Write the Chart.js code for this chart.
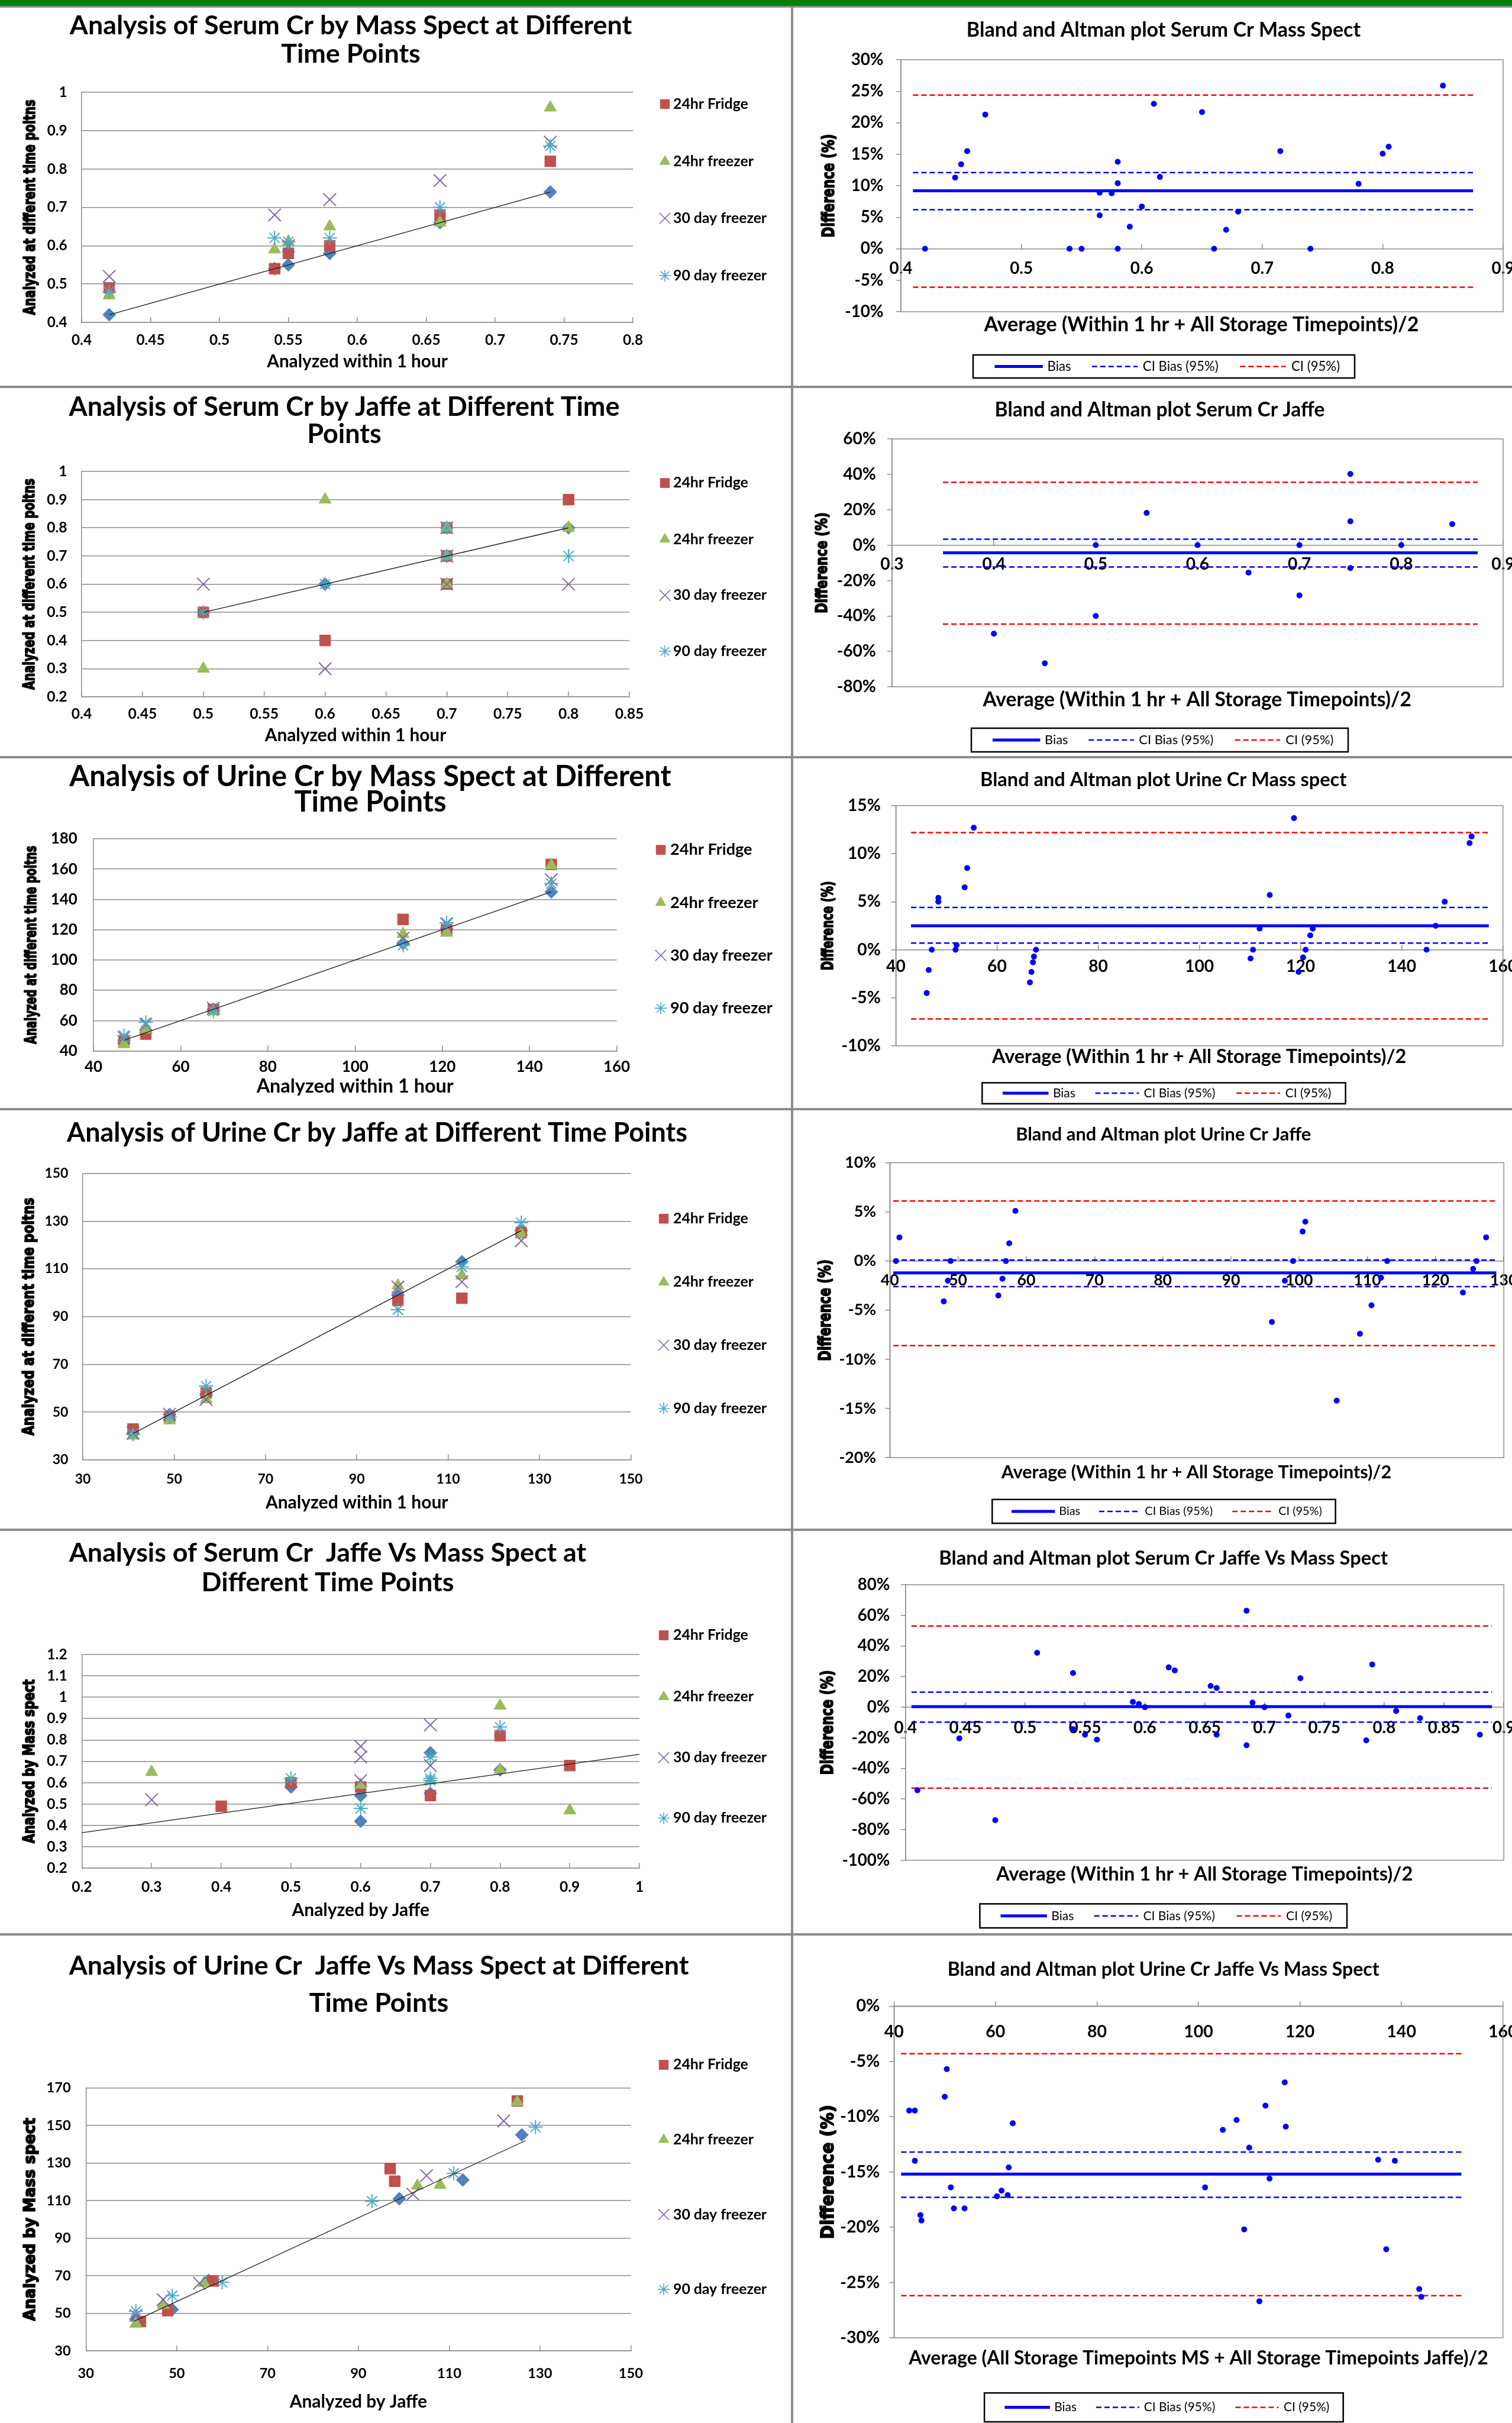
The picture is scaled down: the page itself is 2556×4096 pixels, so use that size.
<!DOCTYPE html>
<html>
<head>
<meta charset="utf-8">
<title>Creatinine stability: scatter and Bland-Altman plots</title>
<script src="https://cdn.jsdelivr.net/npm/chart.js@4.4.1/dist/chart.umd.min.js"></script>
<style>
  html, body { margin: 0; padding: 0; background: #fff; }
  #page { position: relative; width: 2556px; height: 4096px; overflow: hidden; background: #fff; }
  #page canvas { position: absolute; }
  .rule { position: absolute; }
</style>
</head>
<body>
<div id="page"></div>
<script>
// ---------- Serum Cr by Mass Spect ----------
const smX = [0.42, 0.54, 0.55, 0.58, 0.66, 0.74];
const smHour = [0.42, 0.54, 0.55, 0.58, 0.66, 0.74];
const smFridge = [0.49, 0.54, 0.58, 0.60, 0.68, 0.82];
const smFreezer24 = [0.47, 0.59, 0.61, 0.65, 0.66, 0.96];
const smFreezer30 = [0.52, 0.68, 0.60, 0.72, 0.77, 0.87];
const smFreezer90 = [0.48, 0.62, 0.61, 0.62, 0.70, 0.86];
const smTrend = [[0.42, 0.42], [0.74, 0.74]];
const smXTicks = [0.4, 0.45, 0.5, 0.55, 0.6, 0.65, 0.7, 0.75, 0.8];
const smYTicks = [0.4, 0.5, 0.6, 0.7, 0.8, 0.9, 1];

// ---------- Serum Cr by Jaffe ----------
const sjHour = [[0.5, 0.5], [0.6, 0.6], [0.7, 0.7], [0.8, 0.8]];
const sjFridge = [[0.5, 0.5], [0.6, 0.4], [0.7, 0.8], [0.7, 0.7], [0.7, 0.6], [0.8, 0.9]];
const sjFreezer24 = [[0.5, 0.3], [0.6, 0.9], [0.7, 0.8], [0.7, 0.7], [0.7, 0.6], [0.8, 0.8]];
const sjFreezer30 = [[0.5, 0.6], [0.6, 0.3], [0.7, 0.8], [0.7, 0.7], [0.7, 0.6], [0.8, 0.6]];
const sjFreezer90 = [[0.5, 0.5], [0.6, 0.6], [0.7, 0.8], [0.7, 0.7], [0.8, 0.7]];
const sjTrend = [[0.5, 0.5], [0.8, 0.8]];
const sjXTicks = [0.4, 0.45, 0.5, 0.55, 0.6, 0.65, 0.7, 0.75, 0.8, 0.85];
const sjYTicks = [0.2, 0.3, 0.4, 0.5, 0.6, 0.7, 0.8, 0.9, 1];

// ---------- Urine Cr by Mass Spect ----------
const umX = [47, 52, 67.5, 111, 121, 145];
const umHour = [47, 52, 67.5, 111, 121, 145];
const umFridge = [46.7, 51.1, 67.4, 126.8, 120.1, 163.1];
const umFreezer24 = [44.4, 54.1, 66.0, 117.1, 117.9, 162.4];
const umFreezer30 = [48.9, 57.5, 68.2, 114.4, 123.8, 153.0];
const umFreezer90 = [50.1, 58.8, 66.2, 109.7, 124.5, 150.5];
const umTrend = [[47, 47], [145, 145]];
const umXTicks = [40, 60, 80, 100, 120, 140, 160];
const umYTicks = [40, 60, 80, 100, 120, 140, 160, 180];

// ---------- Urine Cr by Jaffe ----------
const ujX = [41, 49, 57, 99, 113, 126];
const ujHour = [41, 49, 57, 99, 113, 126];
const ujFridge = [42.9, 48.0, 58.1, 96.8, 97.7, 125.2];
const ujFreezer24 = [40.1, 46.5, 55.3, 103.0, 107.2, 124.6];
const ujFreezer30 = [41.2, 49.1, 55.3, 102.4, 104.6, 121.8];
const ujFreezer90 = [40.7, 48.0, 60.9, 92.9, 110.8, 129.3];
const ujTrend = [[41, 41], [126, 126]];
const ujXTicks = [30, 50, 70, 90, 110, 130, 150];
const ujYTicks = [30, 50, 70, 90, 110, 130, 150];

// ---------- Serum Cr Jaffe vs Mass Spect ----------
const sjmHour = [[0.6, 0.42], [0.6, 0.54], [0.7, 0.55], [0.5, 0.58], [0.8, 0.66], [0.7, 0.74]];
const sjmFridge = [[0.4, 0.49], [0.5, 0.60], [0.6, 0.58], [0.7, 0.54], [0.8, 0.82], [0.9, 0.68]];
const sjmFreezer24 = [[0.3, 0.65], [0.6, 0.59], [0.7, 0.61], [0.8, 0.96], [0.8, 0.66], [0.9, 0.47]];
const sjmFreezer30 = [[0.3, 0.52], [0.6, 0.77], [0.6, 0.72], [0.6, 0.61], [0.7, 0.87], [0.7, 0.68]];
const sjmFreezer90 = [[0.5, 0.62], [0.6, 0.48], [0.7, 0.72], [0.7, 0.62], [0.7, 0.61], [0.8, 0.86]];
const sjmTrend = [[0.2, 0.366], [1.0, 0.733]];
const sjmXTicks = [0.2, 0.3, 0.4, 0.5, 0.6, 0.7, 0.8, 0.9, 1];
const sjmYTicks = [0.2, 0.3, 0.4, 0.5, 0.6, 0.7, 0.8, 0.9, 1, 1.1, 1.2];

// ---------- Urine Cr Jaffe vs Mass Spect ----------
const ujmHour = [[41, 47], [49, 52], [57, 67.5], [99, 111], [113, 121], [126, 145]];
const ujmFridge = [[42, 45.6], [48, 51.4], [58, 67.2], [97, 127], [98, 120.3], [125, 163]];
const ujmFreezer24 = [[41, 44.4], [47, 54.4], [56, 66], [103, 117.9], [108, 118.3], [125, 162.4]];
const ujmFreezer30 = [[41, 48.9], [47, 57.2], [55, 66], [102, 113.4], [105, 123.3], [122, 152.4]];
const ujmFreezer90 = [[41, 51.1], [49, 59.4], [60, 66.5], [93, 109.7], [111, 124.5], [129, 149.1]];
const ujmTrend = [[40.6, 45.8], [126.8, 141.9]];
const ujmXTicks = [30, 50, 70, 90, 110, 130, 150];
const ujmYTicks = [30, 50, 70, 90, 110, 130, 150, 170];

// ---------- Bland-Altman: Serum Cr Mass Spect ----------
const baSmAvg = [0.42, 0.445, 0.45, 0.455, 0.47, 0.54, 0.55, 0.565, 0.565, 0.575, 0.58, 0.58, 0.58, 0.59,
  0.60, 0.61, 0.615, 0.65, 0.66, 0.67, 0.68, 0.715, 0.74, 0.78, 0.80, 0.805, 0.85];
const baSmDiff = [0, 11.3, 13.4, 15.5, 21.3, 0, 0, 8.9, 5.3, 8.8, 13.8, 10.4, 0, 3.5,
  6.7, 23.0, 11.4, 21.7, 0, 3.0, 5.9, 15.5, 0, 10.3, 15.1, 16.2, 25.9];
const baSmLimits = [9.2, 12.1, 6.2, 24.4, -6.1];   // bias, CI bias hi/lo, CI hi/lo
const baSmSpan = [0.41, 0.875];
const baSmXTicks = [0.4, 0.5, 0.6, 0.7, 0.8, 0.9];
const baSmYTicks = [-10, -5, 0, 5, 10, 15, 20, 25, 30];

// ---------- Bland-Altman: Serum Cr Jaffe ----------
const baSjAvg = [0.4, 0.45, 0.5, 0.5, 0.55, 0.6, 0.65, 0.7, 0.7, 0.75, 0.75, 0.75, 0.8, 0.85];
const baSjDiff = [-50, -66.7, 0, -40, 18.2, 0, -15.5, 0, -28.4, 40.2, 13.5, -12.9, 0, 11.9];
const baSjLimits = [-4.3, 3.4, -12.3, 35.5, -44.6];
const baSjSpan = [0.35, 0.875];
const baSjXTicks = [0.3, 0.4, 0.5, 0.6, 0.7, 0.8, 0.9];
const baSjYTicks = [-80, -60, -40, -20, 0, 20, 40, 60];

// ---------- Bland-Altman: Urine Cr Mass spect ----------
const baUmAvg = [46.1, 46.5, 47.1, 48.4, 48.4, 51.8, 52.0, 53.6, 54.1, 55.4, 66.5, 66.8, 67.1, 67.3, 67.7,
  110.1, 110.6, 111.9, 113.9, 118.7, 119.6, 120.5, 121.0, 121.9, 122.4, 144.9, 146.7, 148.5, 153.4, 153.8];
const baUmDiff = [-4.5, -2.1, 0, 5.4, 5.0, 0, 0.5, 6.5, 8.5, 12.7, -3.4, -2.3, -1.3, -0.7, 0,
  -0.9, 0, 2.2, 5.7, 13.7, -2.3, -0.8, 0, 1.5, 2.2, 0, 2.5, 5.0, 11.1, 11.8];
const baUmLimits = [2.5, 4.4, 0.7, 12.2, -7.2];
const baUmSpan = [43, 157.2];
const baUmXTicks = [40, 60, 80, 100, 120, 140, 160];
const baUmYTicks = [-10, -5, 0, 5, 10, 15];

// ---------- Bland-Altman: Urine Cr Jaffe ----------
const baUjAvg = [40.9, 41.4, 47.9, 48.5, 48.9, 55.9, 56.5, 57.0, 57.5, 58.4, 96.0, 97.9, 99.1, 100.5, 100.9,
  105.5, 108.9, 110.6, 112.0, 112.9, 124.0, 125.5, 126.0, 127.4];
const baUjDiff = [0, 2.4, -4.1, -2.0, 0, -3.5, -1.8, 0, 1.8, 5.1, -6.2, -2.0, 0, 3.0, 4.0,
  -14.2, -7.4, -4.5, -1.7, 0, -3.2, -0.8, 0, 2.4];
const baUjLimits = [-1.2, 0.1, -2.6, 6.1, -8.6];
const baUjSpan = [40.5, 128.9];
const baUjXTicks = [40, 50, 60, 70, 80, 90, 100, 110, 120, 130];
const baUjYTicks = [-20, -15, -10, -5, 0, 5, 10];

// ---------- Bland-Altman: Serum Cr Jaffe vs Mass Spect ----------
const baSjmAvg = [0.41, 0.445, 0.475, 0.51, 0.54, 0.54, 0.55, 0.56, 0.59, 0.595, 0.60, 0.62, 0.625, 0.655,
  0.66, 0.66, 0.685, 0.685, 0.69, 0.70, 0.72, 0.73, 0.785, 0.79, 0.81, 0.83, 0.88];
const baSjmDiff = [-54.3, -20.4, -73.9, 35.5, 22.3, -14.3, -18.0, -21.2, 3.4, 2.1, 0, 26.0, 24.0, 13.9,
  12.5, -18.0, 63.0, -24.9, 2.9, 0, -5.5, 18.9, -21.7, 27.9, -2.5, -7.2, -18.0];
const baSjmLimits = [0.3, 9.8, -9.8, 53.0, -52.9];
const baSjmSpan = [0.405, 0.89];
const baSjmXTicks = [0.4, 0.45, 0.5, 0.55, 0.6, 0.65, 0.7, 0.75, 0.8, 0.85, 0.9];
const baSjmYTicks = [-100, -80, -60, -40, -20, 0, 20, 40, 60, 80];

// ---------- Bland-Altman: Urine Cr Jaffe vs Mass Spect ----------
const baUjmAvg = [43.0, 44.1, 44.1, 45.2, 45.4, 50.0, 50.4, 51.2, 51.8, 53.9, 60.3, 61.2, 62.4, 62.6, 63.4,
  101.3, 104.8, 107.5, 109.0, 110.0, 112.0, 113.2, 114.0, 117.0, 117.2, 135.4, 137.0, 138.7, 143.5, 143.9];
const baUjmDiff = [-9.45, -9.45, -14.0, -18.9, -19.4, -8.2, -5.7, -16.4, -18.3, -18.3, -17.2, -16.7, -17.1, -14.6, -10.6,
  -16.4, -11.2, -10.3, -20.2, -12.8, -26.7, -9.0, -15.6, -6.9, -10.9, -13.9, -22.0, -14.0, -25.6, -26.3];
const baUjmLimits = [-15.2, -13.2, -17.3, -4.3, -26.2];
const baUjmSpan = [41.4, 151.8];
const baUjmXTicks = [40, 60, 80, 100, 120, 140, 160];
const baUjmYTicks = [-30, -25, -20, -15, -10, -5, 0];

// ---------- styling ----------
const GRID = '#8c8c8c';
const BLUE = '#0000ff';
const RED = '#ff0000';
const DASH = [9, 5];
const FONT = 'Lato, "Liberation Sans", Arial, sans-serif';
const YFONT = '"DejaVu Sans", Verdana, sans-serif';

const MARK = {
  hour:   {style: 'rectRot',  r: 11, color: '#4F81BD', open: false},
  fridge: {style: 'rect',     r: 13, color: '#C0504D', open: false},
  f24:    {style: 'triangle', r: 12, color: '#9BBB59', open: false},
  f30:    {style: 'crossRot', r: 15, color: '#8064A2', open: true},
  f90:    {style: 'star',     r: 12, color: '#4BACC6', open: true}
};
const ORDER = {hour: 5, fridge: 4, f24: 3, f30: 2, f90: 1};
const LEG_R = {fridge: 11, f24: 10, f30: 13, f90: 10};
const STORAGE = [['24hr Fridge', 'fridge'], ['24hr freezer', 'f24'], ['30 day freezer', 'f30'], ['90 day freezer', 'f90']];

const BA_KEYS = [
  {label: 'Bias', color: BLUE, width: 5, dash: []},
  {label: 'CI Bias (95%)', color: BLUE, width: 2.5, dash: DASH},
  {label: 'CI (95%)', color: RED, width: 2.5, dash: DASH}
];
// sample start, sample end, text start as fractions of the key box width
const BA_KEY_POS = [[0.0565, 0.1827, 0.1947], [0.3113, 0.4315, 0.4447], [0.6995, 0.8197, 0.8341]];

Chart.defaults.font.family = FONT;
Chart.defaults.color = '#000';

const rowY = [0, 653, 1279, 1874, 2585, 3269, 4096];
const colX = [0, 1340, 2556];
const page = document.getElementById('page');

const measurer = document.createElement('canvas').getContext('2d');
function fitSize(text, weight, family, width) {
  measurer.font = weight + ' 100px ' + family;
  return Math.round(1000 * width / measurer.measureText(text).width) / 10;
}

function xy(xs, ys) { return xs.map((x, i) => ({x: x, y: ys[i]})); }
function pairs(list) { return list.map(p => ({x: p[0], y: p[1]})); }

function seriesOf(hour, sets) {
  return [{label: 'Within 1 hour', kind: 'hour', data: hour}].concat(
    sets.map((d, i) => ({label: STORAGE[i][0], kind: STORAGE[i][1], data: d})));
}

function makeCanvas(r, c) {
  const cv = document.createElement('canvas');
  const ox = colX[c], oy = rowY[r];
  const W = colX[c + 1] - ox, H = rowY[r + 1] - oy;
  cv.width = W; cv.height = H;
  cv.style.left = ox + 'px'; cv.style.top = oy + 'px';
  cv.style.width = W + 'px'; cv.style.height = H + 'px';
  page.appendChild(cv);
  return {cv, ox, oy, W, H};
}

function axis(ticks, fmt, size, pad, extra) {
  return Object.assign({
    type: 'linear',
    min: ticks[0],
    max: ticks[ticks.length - 1],
    afterBuildTicks: s => { s.ticks = ticks.map(v => ({value: v})); },
    ticks: {autoSkip: false, maxRotation: 0, minRotation: 0, padding: pad, color: '#000',
            font: {family: FONT, size: size, weight: 'bold'}, callback: v => fmt(v)}
  }, extra);
}

function fix(s, w, h) {
  if (w !== null) s.width = w;
  if (h !== null) s.height = h;
  s.paddingLeft = 0; s.paddingRight = 0; s.paddingTop = 0; s.paddingBottom = 0;
}

function marker(ctx, style, radius, x, y, bw) {
  if (Chart.helpers && Chart.helpers.drawPoint) {
    Chart.helpers.drawPoint(ctx, {pointStyle: style, radius: radius, rotation: 0, borderWidth: bw}, x, y);
  } else {
    ctx.fillRect(x - radius * 0.7, y - radius * 0.7, radius * 1.4, radius * 1.4);
  }
}

// titles, rotated axis titles, legends and the plot frame
function overlay(spec) {
  return {
    id: 'overlay',
    beforeDatasetsDraw(chart) {
      if (!spec.frame) return;
      const a = chart.chartArea, ctx = chart.ctx;
      ctx.save();
      ctx.strokeStyle = GRID;
      ctx.lineWidth = 1.5;
      ctx.strokeRect(a.left, a.top, a.right - a.left, a.bottom - a.top);
      ctx.restore();
    },
    afterDraw(chart) {
      const ctx = chart.ctx;
      const a = chart.chartArea;
      ctx.save();
      (spec.texts || []).forEach(t => {
        ctx.fillStyle = '#000';
        ctx.font = t.font;
        ctx.textAlign = 'center';
        ctx.textBaseline = 'alphabetic';
        ctx.fillText(t.text, t.x, t.y);
      });
      if (spec.ytitle) {
        // the y title is squeezed along its length, as in the source figure
        const yt = spec.ytitle;
        ctx.save();
        ctx.translate(yt.x, (a.top + a.bottom) / 2);
        ctx.rotate(-Math.PI / 2);
        ctx.font = 'bold ' + yt.size + 'px ' + YFONT;
        const w = ctx.measureText(yt.text).width;
        ctx.scale(yt.len / w, 1);
        ctx.fillStyle = '#000';
        ctx.strokeStyle = '#000';
        ctx.lineWidth = 1.8;
        ctx.lineJoin = 'round';
        ctx.textAlign = 'center';
        ctx.textBaseline = 'middle';
        ctx.fillText(yt.text, 0, 0);
        ctx.strokeText(yt.text, 0, 0);
        ctx.restore();
      }
      (spec.legend || []).forEach(it => {
        const m = MARK[it.kind];
        ctx.fillStyle = m.color;
        ctx.strokeStyle = m.color;
        ctx.lineWidth = m.open ? 1.6 : 1;
        ctx.setLineDash([]);
        marker(ctx, m.style, LEG_R[it.kind], it.mx, it.y, ctx.lineWidth);
        ctx.fillStyle = '#000';
        ctx.font = it.font;
        ctx.textAlign = 'left';
        ctx.textBaseline = 'middle';
        ctx.fillText(it.label, it.tx, it.y);
      });
      if (spec.box) {
        const b = spec.box, w = b.x1 - b.x0, cy = (b.y0 + b.y1) / 2;
        ctx.setLineDash([]);
        ctx.strokeStyle = '#000';
        ctx.lineWidth = 2.5;
        ctx.strokeRect(b.x0, b.y0, w, b.y1 - b.y0);
        BA_KEYS.forEach((k, i) => {
          const pos = BA_KEY_POS[i];
          ctx.strokeStyle = k.color;
          ctx.lineWidth = k.width;
          ctx.setLineDash(k.dash);
          ctx.beginPath();
          ctx.moveTo(b.x0 + pos[0] * w, cy);
          ctx.lineTo(b.x0 + pos[1] * w, cy);
          ctx.stroke();
          ctx.setLineDash([]);
          ctx.fillStyle = '#000';
          ctx.font = b.font;
          ctx.textAlign = 'left';
          ctx.textBaseline = 'middle';
          ctx.fillText(k.label, b.x0 + pos[2] * w, cy);
        });
      }
      ctx.restore();
    }
  };
}

function scatterPanel(p) {
  const {cv, ox, oy, W, H} = makeCanvas(p.r, p.c);
  const L = p.plot[0] - ox, T = p.plot[1] - oy, R = p.plot[2] - ox, B = p.plot[3] - oy;
  const tick = fitSize(p.tick[0], 'bold', FONT, p.tick[1]);
  const titleSize = fitSize(p.title[0], 'bold', FONT, p.titleW);
  const xtSize = fitSize(p.xTitle, 'bold', FONT, p.xTitleW);
  const legSize = fitSize('30 day freezer', 'bold', FONT, p.legW);
  const TL = -9;

  const datasets = p.series.map(s => {
    const m = MARK[s.kind];
    return {
      label: s.label, data: s.data, order: ORDER[s.kind],
      pointStyle: m.style, pointRadius: m.r, pointHoverRadius: m.r,
      backgroundColor: m.open ? 'rgba(0,0,0,0)' : m.color,
      borderColor: m.color, pointBorderWidth: m.open ? 2 : 1
    };
  });
  datasets.push({label: 'Linear trend', data: pairs(p.trend), order: 0, showLine: true,
    pointRadius: 0, pointHoverRadius: 0, borderColor: '#1a1a1a', borderWidth: 1.3});

  const texts = p.title.map((t, i) => ({text: t, x: p.titleX - ox, y: p.titleY[i] - oy,
    font: 'bold ' + titleSize + 'px ' + FONT}));
  const legend = p.series.filter(s => s.kind !== 'hour').map((s, i) => ({
    kind: s.kind, label: s.label, mx: p.leg.mx - ox, tx: p.leg.tx - ox, y: p.leg.ys[i] - oy,
    font: 'bold ' + legSize + 'px ' + FONT}));

  new Chart(cv, {
    type: 'scatter',
    data: {datasets},
    options: {
      responsive: false, animation: false, devicePixelRatio: 1,
      layout: {padding: {left: 0, top: T, right: W - R, bottom: 0}},
      plugins: {legend: {display: false}, tooltip: {enabled: false}},
      scales: {
        x: axis(p.xTicks, String, tick, (p.xLabelY - oy) - B - TL - 0.6 * tick, {
          position: 'bottom',
          grid: {display: true, drawOnChartArea: false, drawTicks: true, tickLength: TL, color: GRID, lineWidth: 1.5},
          border: {display: true, color: GRID, width: 1.5},
          title: {display: true, text: p.xTitle, color: '#000',
                  font: {family: FONT, size: xtSize, weight: 'bold'},
                  padding: {top: 0, bottom: H - (p.xTitleY - oy) - 0.6 * xtSize}},
          afterFit: s => fix(s, null, H - B)
        }),
        y: axis(p.yTicks, String, tick, p.yGap, {
          position: 'left',
          grid: {display: true, drawOnChartArea: true, drawTicks: false, color: GRID, lineWidth: 1.5},
          border: {display: true, color: GRID, width: 1.5},
          afterFit: s => fix(s, L, null)
        })
      }
    },
    plugins: [overlay({texts, legend,
      ytitle: {text: p.yTitle, x: p.yTitleX - ox, size: p.yTitleSize, len: p.yTitleLen}})]
  });
}

function baPanel(p) {
  const {cv, ox, oy, W, H} = makeCanvas(p.r, p.c);
  const L = p.plot[0] - ox, T = p.plot[1] - oy, R = p.plot[2] - ox, B = p.plot[3] - oy;
  const tick = 1.08 * fitSize(p.tick[0], 'bold', FONT, p.tick[1]);
  const titleSize = fitSize(p.title, 'bold', FONT, p.titleW);
  const xtSize = fitSize(p.xTitle, 'bold', FONT, p.xTitleW);
  const keySize = fitSize('CI Bias (95%)', 'normal', FONT, p.keyW);
  const yMin = p.yTicks[0], yMax = p.yTicks[p.yTicks.length - 1];
  const zeroPix = T + yMax / (yMax - yMin) * (B - T);
  const TL = -9;
  const lim = p.limits;
  const seg = v => [{x: p.span[0], y: v}, {x: p.span[1], y: v}];
  const limitSet = (label, v, color, width, dash) => ({
    label, data: seg(v), order: 1, showLine: true, pointRadius: 0, pointHoverRadius: 0,
    borderColor: color, borderWidth: width, borderDash: dash
  });
  const datasets = [
    {label: 'Difference (%)', data: xy(p.x, p.y), order: 0, pointStyle: 'circle',
     pointRadius: 5, pointHoverRadius: 5, backgroundColor: BLUE, borderColor: BLUE, pointBorderWidth: 0},
    limitSet('Bias', lim[0], BLUE, 5, []),
    limitSet('CI Bias (95%)', lim[1], BLUE, 2.5, DASH),
    limitSet('CI Bias (95%)', lim[2], BLUE, 2.5, DASH),
    limitSet('CI (95%)', lim[3], RED, 2.5, DASH),
    limitSet('CI (95%)', lim[4], RED, 2.5, DASH)
  ];

  new Chart(cv, {
    type: 'scatter',
    data: {datasets},
    options: {
      responsive: false, animation: false, devicePixelRatio: 1,
      layout: {padding: {left: 0, top: T, right: W - R, bottom: H - B}},
      plugins: {legend: {display: false}, tooltip: {enabled: false}},
      scales: {
        x: axis(p.xTicks, String, tick, (p.xLabelY - oy) - zeroPix - TL - 0.6 * tick, {
          position: {y: 0},
          grid: {display: true, drawOnChartArea: false, drawTicks: true, tickLength: TL, color: GRID, lineWidth: 1.5},
          border: {display: true, color: GRID, width: 1.5},
          afterFit: s => fix(s, null, null)
        }),
        y: axis(p.yTicks, v => v + '%', tick, p.yGap - 8, {
          position: 'left',
          grid: {display: true, drawOnChartArea: false, drawTicks: true, tickLength: 8, color: GRID, lineWidth: 1.5},
          border: {display: true, color: GRID, width: 1.5},
          afterFit: s => fix(s, L, null)
        })
      }
    },
    plugins: [overlay({
      frame: true,
      texts: [
        {text: p.title, x: p.titleX - ox, y: p.titleY - oy, font: 'bold ' + titleSize + 'px ' + FONT},
        {text: p.xTitle, x: p.xTitleX - ox, y: p.xTitleY - oy, font: 'bold ' + xtSize + 'px ' + FONT}
      ],
      ytitle: {text: 'Difference (%)', x: p.yTitleX - ox, size: p.yTitleSize, len: p.yTitleLen},
      box: {x0: p.box[0] - ox, y0: p.box[1] - oy, x1: p.box[2] - ox, y1: p.box[3] - oy,
            font: keySize + 'px ' + FONT}
    })]
  });
}

const AVG_TITLE = 'Average (Within 1 hr + All Storage Timepoints)/2';

// ---------- left column: storage comparisons ----------
scatterPanel({
  r: 0, c: 0, plot: [138, 156, 1070, 545],
  title: ['Analysis of Serum Cr by Mass Spect at Different', 'Time Points'], titleW: 951, titleX: 593, titleY: [58, 106],
  tick: ['0.45', 48], xLabelY: 575, yGap: 24.4,
  xTitle: 'Analyzed within 1 hour', xTitleW: 306, xTitleY: 611,
  yTitle: 'Analyzed at different time poitns', yTitleLen: 364, yTitleX: 52, yTitleSize: 27,
  leg: {mx: 1124, tx: 1138, ys: [176, 273, 369, 466]}, legW: 158,
  xTicks: smXTicks, yTicks: smYTicks, trend: smTrend,
  series: seriesOf(xy(smX, smHour), [xy(smX, smFridge), xy(smX, smFreezer24), xy(smX, smFreezer30), xy(smX, smFreezer90)])
});

scatterPanel({
  r: 1, c: 0, plot: [138, 797, 1064, 1178],
  title: ['Analysis of Serum Cr by Jaffe at Different Time', 'Points'], titleW: 930, titleX: 582, titleY: [703, 749],
  tick: ['0.45', 48.7], xLabelY: 1207, yGap: 24.4,
  xTitle: 'Analyzed within 1 hour', xTitleW: 307, xTitleY: 1243,
  yTitle: 'Analyzed at different time poitns', yTitleLen: 357, yTitleX: 51, yTitleSize: 27,
  leg: {mx: 1124, tx: 1138, ys: [816.5, 911.6, 1006.3, 1101]}, legW: 158,
  xTicks: sjXTicks, yTicks: sjYTicks, trend: sjTrend,
  series: seriesOf(pairs(sjHour), [pairs(sjFridge), pairs(sjFreezer24), pairs(sjFreezer30), pairs(sjFreezer90)])
});

scatterPanel({
  r: 2, c: 0, plot: [158, 1418, 1042.5, 1776.5],
  title: ['Analysis of Urine Cr by Mass Spect at Different', 'Time Points'], titleW: 1018, titleX: 626, titleY: [1328.5, 1372],
  tick: ['160', 45], xLabelY: 1804, yGap: 27.3,
  xTitle: 'Analyzed within 1 hour', xTitleW: 333, xTitleY: 1837,
  yTitle: 'Analyzed at different time poitns', yTitleLen: 335, yTitleX: 54, yTitleSize: 27,
  leg: {mx: 1117, tx: 1133, ys: [1436.7, 1525.9, 1615.1, 1704.4]}, legW: 172.6,
  xTicks: umXTicks, yTicks: umYTicks, trend: umTrend,
  series: seriesOf(xy(umX, umHour), [xy(umX, umFridge), xy(umX, umFreezer24), xy(umX, umFreezer30), xy(umX, umFreezer90)])
});

scatterPanel({
  r: 3, c: 0, plot: [140, 1983.6, 1066.4, 2467.8],
  title: ['Analysis of Urine Cr by Jaffe at Different Time Points'], titleW: 1048.5, titleX: 637.5, titleY: [1929.8],
  tick: ['130', 40], xLabelY: 2501, yGap: 24.6,
  xTitle: 'Analyzed within 1 hour', xTitleW: 308.5, xTitleY: 2540,
  yTitle: 'Analyzed at different time poitns', yTitleLen: 402, yTitleX: 50, yTitleSize: 27,
  leg: {mx: 1122, tx: 1138, ys: [2060.2, 2167.5, 2274, 2380.8]}, legW: 158,
  xTicks: ujXTicks, yTicks: ujYTicks, trend: ujTrend,
  series: seriesOf(xy(ujX, ujHour), [xy(ujX, ujFridge), xy(ujX, ujFreezer24), xy(ujX, ujFreezer30), xy(ujX, ujFreezer90)])
});

scatterPanel({
  r: 4, c: 0, plot: [138.4, 2796.7, 1081, 3158.2],
  title: ['Analysis of Serum Cr  Jaffe Vs Mass Spect at', 'Different Time Points'], titleW: 874, titleX: 554, titleY: [2640, 2690.2],
  tick: ['0.4', 34.2], xLabelY: 3189.6, yGap: 24.8,
  xTitle: 'Analyzed by Jaffe', xTitleW: 232.4, xTitleY: 3229.3,
  yTitle: 'Analyzed by Mass spect', yTitleLen: 277, yTitleX: 51.5, yTitleSize: 26,
  leg: {mx: 1122, tx: 1138, ys: [2764.4, 2868.3, 2971.3, 3073.5]}, legW: 158,
  xTicks: sjmXTicks, yTicks: sjmYTicks, trend: sjmTrend,
  series: seriesOf(pairs(sjmHour), [pairs(sjmFridge), pairs(sjmFreezer24), pairs(sjmFreezer30), pairs(sjmFreezer90)])
});

scatterPanel({
  r: 5, c: 0, plot: [145.3, 3529.5, 1066.4, 3974],
  title: ['Analysis of Urine Cr  Jaffe Vs Mass Spect at Different', 'Time Points'], titleW: 1046.8, titleX: 640.5, titleY: [3337.5, 3400.8],
  tick: ['130', 41], xLabelY: 4012.5, yGap: 25.7,
  xTitle: 'Analyzed by Jaffe', xTitleW: 232.4, xTitleY: 4060,
  yTitle: 'Analyzed by Mass spect', yTitleLen: 343, yTitleX: 52, yTitleSize: 27,
  leg: {mx: 1122, tx: 1138, ys: [3490.5, 3617, 3743.6, 3870.1]}, legW: 158,
  xTicks: ujmXTicks, yTicks: ujmYTicks, trend: ujmTrend,
  series: seriesOf(pairs(ujmHour), [pairs(ujmFridge), pairs(ujmFreezer24), pairs(ujmFreezer30), pairs(ujmFreezer90)])
});

// ---------- right column: Bland and Altman plots ----------
baPanel({
  r: 0, c: 1, plot: [1523, 101, 2541, 527],
  title: 'Bland and Altman plot Serum Cr Mass Spect', titleW: 667, titleX: 1967, titleY: 62,
  tick: ['-10%', 60.5], yGap: 29.4, xLabelY: 454, yTitleLen: 175, yTitleX: 1403, yTitleSize: 28,
  xTitle: AVG_TITLE, xTitleW: 735, xTitleX: 2031, xTitleY: 560,
  box: [1645, 600, 2290, 639], keyW: 128,
  xTicks: baSmXTicks, yTicks: baSmYTicks, x: baSmAvg, y: baSmDiff, limits: baSmLimits, span: baSmSpan
});

baPanel({
  r: 1, c: 1, plot: [1508, 742, 2541, 1161],
  title: 'Bland and Altman plot Serum Cr Jaffe', titleW: 558.5, titleX: 1960.5, titleY: 704,
  tick: ['-80%', 61.3], yGap: 27.1, xLabelY: 954.3, yTitleLen: 170.6, yTitleX: 1391, yTitleSize: 27,
  xTitle: AVG_TITLE, xTitleW: 723.7, xTitleX: 2023.7, xTitleY: 1194,
  box: [1642, 1231, 2279, 1271], keyW: 126.4,
  xTicks: baSjXTicks, yTicks: baSjYTicks, x: baSjAvg, y: baSjDiff, limits: baSjLimits, span: baSjSpan
});

baPanel({
  r: 2, c: 1, plot: [1514.4, 1361.9, 2540.7, 1768],
  title: 'Bland and Altman plot Urine Cr Mass spect', titleW: 619, titleX: 1966.7, titleY: 1328.5,
  tick: ['-10%', 61.3], yGap: 25.6, xLabelY: 1634.1, yTitleLen: 150.7, yTitleX: 1401, yTitleSize: 26,
  xTitle: AVG_TITLE, xTitleW: 699.7, xTitleX: 2027.2, xTitleY: 1797.4,
  box: [1660.3, 1830.4, 2274.6, 1865.8], keyW: 121,
  xTicks: baUmXTicks, yTicks: baUmYTicks, x: baUmAvg, y: baUmDiff, limits: baUmLimits, span: baUmSpan
});

baPanel({
  r: 3, c: 1, plot: [1504.3, 1965.5, 2542.2, 2464.2],
  title: 'Bland and Altman plot Urine Cr Jaffe', titleW: 498.8, titleX: 1966.7, titleY: 1928,
  tick: ['-20%', 58.2], yGap: 23.2, xLabelY: 2164.3, yTitleLen: 171.6, yTitleX: 1396.5, yTitleSize: 28,
  xTitle: AVG_TITLE, xTitleW: 659.3, xTitleX: 2022.5, xTitleY: 2498.6,
  box: [1677.3, 2534.8, 2257.6, 2575.1], keyW: 114.8,
  xTicks: baUjXTicks, yTicks: baUjYTicks, x: baUjAvg, y: baUjDiff, limits: baUjLimits, span: baUjSpan
});

baPanel({
  r: 4, c: 1, plot: [1530.7, 2678.9, 2542.2, 3144.6],
  title: 'Bland and Altman plot Serum Cr Jaffe Vs Mass Spect', titleW: 760.2, titleX: 1966.7, titleY: 2644.8,
  tick: ['-100%', 75.2], yGap: 26.3, xLabelY: 2920.7, yTitleLen: 176.8, yTitleX: 1401, yTitleSize: 28,
  xTitle: AVG_TITLE, xTitleW: 705.1, xTitleX: 2036.1, xTitleY: 3179.1,
  box: [1656.4, 3218.4, 2277, 3259], keyW: 121.8,
  xTicks: baSjmXTicks, yTicks: baSjmYTicks, x: baSjmAvg, y: baSjmDiff, limits: baSjmLimits, span: baSjmSpan
});

baPanel({
  r: 5, c: 1, plot: [1511.3, 3391.3, 2540.7, 3951.8],
  title: 'Bland and Altman plot Urine Cr Jaffe Vs Mass Spect', titleW: 729.2, titleX: 1966.7, titleY: 3340.2,
  tick: ['-30%', 62], yGap: 24, xLabelY: 3435.1, yTitleLen: 226.7, yTitleX: 1401, yTitleSize: 30,
  xTitle: 'Average (All Storage Timepoints MS + All Storage Timepoints Jaffe)/2', xTitleW: 981.3, xTitleX: 2026, xTitleY: 3996.7,
  box: [1664.1, 4045.2, 2270.7, 4094], keyW: 120.2,
  xTicks: baUjmXTicks, yTicks: baUjmYTicks, x: baUjmAvg, y: baUjmDiff, limits: baUjmLimits, span: baUjmSpan
});

// ---------- page rules ----------
function rule(x, y, w, h, color) {
  const d = document.createElement('div');
  d.className = 'rule';
  d.style.left = x + 'px'; d.style.top = y + 'px';
  d.style.width = w + 'px'; d.style.height = h + 'px';
  d.style.background = color;
  page.appendChild(d);
}
rule(0, 0, 2556, 10, '#008000');
rule(0, 10, 2556, 3, '#8c8c8c');
rowY.slice(1, -1).forEach(y => rule(0, y - 1, 2556, 4, '#8c8c8c'));
rule(1337, 10, 4, 4086, '#8c8c8c');
</script>
</body>
</html>
